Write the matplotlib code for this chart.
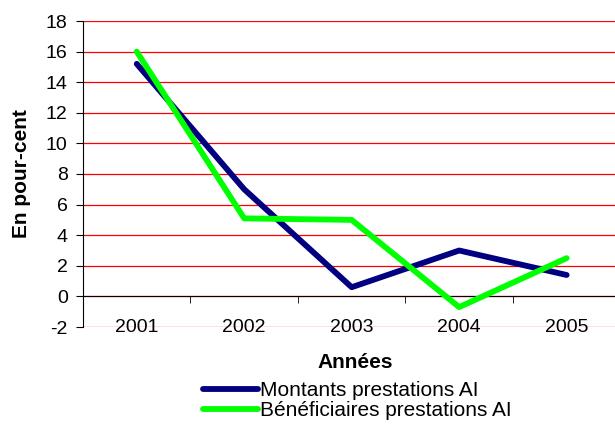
import matplotlib.pyplot as plt
from matplotlib.ticker import MultipleLocator, FixedLocator

plt.rcParams["font.family"] = ["Liberation Sans", "DejaVu Sans"]
plt.rcParams["axes.unicode_minus"] = False

years = ["2001", "2002", "2003", "2004", "2005"]
montants = [15.2, 7.0, 0.6, 3.0, 1.4]
beneficiaires = [16.0, 5.1, 5.0, -0.7, 2.5]

fig = plt.figure(figsize=(6.15, 4.28), dpi=100)
ax = fig.add_axes([83 / 615, 101 / 428, (615 - 83) / 615, 306 / 428])

x = range(len(years))
ax.plot(x, montants, color="#000080", linewidth=4.2, solid_capstyle="round",
        label="Montants prestations AI", zorder=3)
ax.plot(x, beneficiaires, color="#00FF00", linewidth=4.2, solid_capstyle="round",
        label="Bénéficiaires prestations AI", zorder=4)

ax.set_xlim(-0.5, 4.45)
ax.set_ylim(-2, 18)
ax.yaxis.set_major_locator(MultipleLocator(2))
ax.grid(axis="y", color="#FF0000", linewidth=0.9, zorder=0)
ax.set_axisbelow(True)

for side in ("top", "right"):
    ax.spines[side].set_visible(False)
ax.spines["bottom"].set_position(("data", 0))
ax.spines["bottom"].set_color("black")
ax.spines["left"].set_color("black")
ax.spines["bottom"].set_zorder(2)

ax.set_xticks(list(x))
ax.set_xticklabels(years)
ax.xaxis.set_minor_locator(FixedLocator([0.5, 1.5, 2.5, 3.5]))
ax.tick_params(axis="x", which="major", length=0, pad=16, labelsize=14)
ax.tick_params(axis="x", which="minor", length=5, direction="out", color="black")
ax.tick_params(axis="y", length=5, direction="out", labelsize=14, pad=6)

ax.set_ylabel("En pour-cent", fontsize=15, fontweight="bold", labelpad=11)
fig.text(355 / 615, 1 - 368 / 428, "Années", ha="center", va="baseline",
         fontsize=15, fontweight="bold")

fig.legend(loc="upper left", bbox_to_anchor=(203 / 615, 1 - 381 / 428),
           frameon=False, fontsize=15, handlelength=2.65, handletextpad=0.1,
           labelspacing=0.05, borderpad=0, borderaxespad=0)

fig.savefig("out.png", dpi=100, facecolor="white")
